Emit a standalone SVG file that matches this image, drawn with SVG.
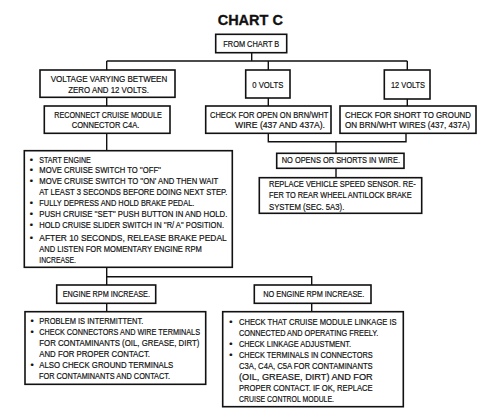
<svg xmlns="http://www.w3.org/2000/svg" width="503" height="408" viewBox="0 0 503 408">
<style>
.b{fill:#fff;stroke:#111;stroke-width:1.6}
.c{fill:none;stroke:#111;stroke-width:1.4}
text{font-family:"Liberation Sans",Arial,sans-serif;font-size:9.2px;fill:#111;stroke:#111;stroke-width:0.2}
.t{font-size:14.5px;font-weight:bold;stroke-width:0.3}
</style>
<rect width="503" height="408" fill="#fff"/>
<text class="t" x="250.3" y="25.2" text-anchor="middle">CHART C</text>
<g id="connectors">
<path class="c" d="M251.7 52.7V61M106.7 61H407.3M106.7 61V70M268.3 61V70M407.3 61V70"/>
<path class="c" d="M106.7 97.3V106M268.3 98V106M407.3 99V106"/>
<path class="c" d="M268.3 133.3V141.7H406V133.3M336 141.7V153.3M336 168.3V177.7"/>
<path class="c" d="M106.7 133.3V150.7M106.7 267.3V285M106.7 276.7H311.7V285M106.7 303.3V311.7M311.7 303.3V311.7"/>
</g>
<g id="from-chart-b">
<rect class="b" x="215.7" y="34.3" width="71" height="18.4"/>
<text x="223.3" y="47" textLength="56" lengthAdjust="spacingAndGlyphs">FROM CHART B</text>
</g>
<g id="voltage-varying">
<rect class="b" x="40" y="70" width="135" height="27.3"/>
<text x="50.7" y="82.3" textLength="116.6" lengthAdjust="spacingAndGlyphs">VOLTAGE  VARYING  BETWEEN</text>
<text x="68.3" y="92.7" textLength="80.7" lengthAdjust="spacingAndGlyphs">ZERO  AND 12 VOLTS.</text>
</g>
<g id="zero-volts">
<rect class="b" x="245.7" y="70" width="44.3" height="28"/>
<text x="252.3" y="87.6" textLength="31" lengthAdjust="spacingAndGlyphs">0 VOLTS</text>
</g>
<g id="twelve-volts">
<rect class="b" x="384.3" y="70" width="45.7" height="29"/>
<text x="391" y="87.6" textLength="34" lengthAdjust="spacingAndGlyphs">12 VOLTS</text>
</g>
<g id="reconnect">
<rect class="b" x="44.3" y="106" width="125.7" height="27.3"/>
<text x="54.3" y="117.6" textLength="107.4" lengthAdjust="spacingAndGlyphs">RECONNECT CRUISE MODULE</text>
<text x="71.7" y="128.4" textLength="67.6" lengthAdjust="spacingAndGlyphs">CONNECTOR C4A.</text>
</g>
<g id="check-open">
<rect class="b" x="205.7" y="106" width="125.3" height="27.3"/>
<text x="210" y="117.6" textLength="118.3" lengthAdjust="spacingAndGlyphs">CHECK  FOR  OPEN  ON  BRN/WHT</text>
<text x="235" y="128.4" textLength="90" lengthAdjust="spacingAndGlyphs">WIRE  (437 AND 437A).</text>
</g>
<g id="check-short">
<rect class="b" x="340" y="106" width="136" height="27.3"/>
<text x="345" y="117.6" textLength="126" lengthAdjust="spacingAndGlyphs">CHECK  FOR  SHORT  TO  GROUND</text>
<text x="345" y="128.4" textLength="125" lengthAdjust="spacingAndGlyphs">ON BRN/WHT WIRES (437, 437A)</text>
</g>
<g id="no-opens">
<rect class="b" x="276.7" y="153.3" width="127.3" height="15"/>
<text x="281.7" y="163.3" textLength="118.3" lengthAdjust="spacingAndGlyphs">NO OPENS OR SHORTS IN WIRE.</text>
</g>
<g id="replace-sensor">
<rect class="b" x="259.3" y="177.7" width="162.4" height="35.6"/>
<text x="269" y="187.3" textLength="146.7" lengthAdjust="spacingAndGlyphs">REPLACE VEHICLE SPEED SENSOR. RE-</text>
<text x="269" y="198.3" textLength="142.7" lengthAdjust="spacingAndGlyphs">FER TO REAR WHEEL ANTILOCK BRAKE</text>
<text x="269" y="209.6" textLength="75.3" lengthAdjust="spacingAndGlyphs">SYSTEM (SEC. 5A3).</text>
</g>
<g id="test-steps">
<rect class="b" x="24.3" y="150.7" width="208" height="116.6"/>
<text x="29.8" y="162.6">•</text>
<text x="39.3" y="162.6" textLength="51.4" lengthAdjust="spacingAndGlyphs">START ENGINE</text>
<text x="29.8" y="173.3">•</text>
<text x="39.3" y="173.3" textLength="121.7" lengthAdjust="spacingAndGlyphs">MOVE CRUISE SWITCH TO ''OFF''</text>
<text x="29.8" y="184.3">•</text>
<text x="39.3" y="184.3" textLength="179" lengthAdjust="spacingAndGlyphs">MOVE CRUISE SWITCH TO ''ON' AND THEN  WAIT</text>
<text x="39.3" y="195" textLength="188" lengthAdjust="spacingAndGlyphs">AT LEAST  3  SECONDS  BEFORE DOING NEXT STEP.</text>
<text x="29.8" y="206">•</text>
<text x="39.3" y="206" textLength="155" lengthAdjust="spacingAndGlyphs">FULLY DEPRESS AND HOLD BRAKE PEDAL.</text>
<text x="29.8" y="216.6">•</text>
<text x="39.3" y="216.6" textLength="188" lengthAdjust="spacingAndGlyphs">PUSH CRUISE ''SET'' PUSH BUTTON IN AND HOLD.</text>
<text x="29.8" y="228.3">•</text>
<text x="39.3" y="228.3" textLength="184.7" lengthAdjust="spacingAndGlyphs">HOLD CRUISE SLIDER SWITCH IN ''R/ A'' POSITION.</text>
<text x="29.8" y="240.6">•</text>
<text x="39.3" y="240.6" textLength="187.4" lengthAdjust="spacingAndGlyphs">AFTER  10  SECONDS,  RELEASE  BRAKE  PEDAL</text>
<text x="39.3" y="251.6" textLength="162.4" lengthAdjust="spacingAndGlyphs">AND LISTEN FOR MOMENTARY ENGINE RPM</text>
<text x="39.3" y="262.6" textLength="36.7" lengthAdjust="spacingAndGlyphs">INCREASE.</text>
</g>
<g id="rpm-increase">
<rect class="b" x="56.7" y="285" width="99" height="18.3"/>
<text x="62.7" y="297.3" textLength="87.3" lengthAdjust="spacingAndGlyphs">ENGINE RPM INCREASE.</text>
</g>
<g id="no-rpm-increase">
<rect class="b" x="254.3" y="285" width="116.7" height="18.3"/>
<text x="263.3" y="297.3" textLength="101" lengthAdjust="spacingAndGlyphs">NO ENGINE RPM INCREASE.</text>
</g>
<g id="intermittent">
<rect class="b" x="25" y="311.7" width="180.7" height="72.6"/>
<text x="30.5" y="324">•</text>
<text x="39.3" y="324" textLength="104" lengthAdjust="spacingAndGlyphs">PROBLEM IS INTERMITTENT.</text>
<text x="30.5" y="334.6">•</text>
<text x="39.3" y="334.6" textLength="160.7" lengthAdjust="spacingAndGlyphs">CHECK CONNECTORS AND WIRE TERMINALS</text>
<text x="39.3" y="346" textLength="160" lengthAdjust="spacingAndGlyphs">FOR  CONTAMINANTS  (OIL, GREASE,  DIRT)</text>
<text x="39.3" y="357" textLength="110.7" lengthAdjust="spacingAndGlyphs">AND  FOR  PROPER CONTACT.</text>
<text x="30.5" y="368.3">•</text>
<text x="39.3" y="368.3" textLength="134" lengthAdjust="spacingAndGlyphs">ALSO  CHECK  GROUND  TERMINALS</text>
<text x="39" y="379.3" textLength="131" lengthAdjust="spacingAndGlyphs">FOR CONTAMINANTS AND CONTACT.</text>
</g>
<g id="check-linkage">
<rect class="b" x="222.7" y="311.7" width="180.6" height="95"/>
<text x="229.2" y="325">•</text>
<text x="239" y="325" textLength="157.7" lengthAdjust="spacingAndGlyphs">CHECK THAT CRUISE MODULE LINKAGE IS</text>
<text x="239" y="336" textLength="139.3" lengthAdjust="spacingAndGlyphs">CONNECTED AND OPERATING FREELY.</text>
<text x="229.2" y="347">•</text>
<text x="239" y="347" textLength="112" lengthAdjust="spacingAndGlyphs">CHECK LINKAGE ADJUSTMENT.</text>
<text x="229.2" y="358">•</text>
<text x="239" y="358" textLength="133.7" lengthAdjust="spacingAndGlyphs">CHECK TERMINALS IN CONNECTORS</text>
<text x="239" y="369" textLength="133.7" lengthAdjust="spacingAndGlyphs">C3A, C4A, C5A FOR CONTAMINANTS</text>
<text x="239" y="380" textLength="133.7" lengthAdjust="spacingAndGlyphs">(OIL,  GREASE,  DIRT)  AND  FOR</text>
<text x="239" y="391" textLength="133.7" lengthAdjust="spacingAndGlyphs">PROPER CONTACT. IF OK, REPLACE</text>
<text x="239" y="402" textLength="95" lengthAdjust="spacingAndGlyphs">CRUISE CONTROL MODULE.</text>
</g>
</svg>
